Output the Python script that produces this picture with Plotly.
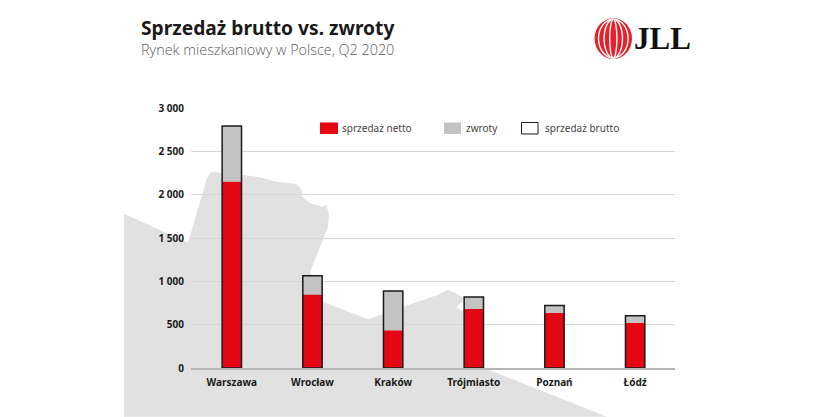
import plotly.graph_objects as go

cities = ["Warszawa", "Wrocław", "Kraków", "Trójmiasto", "Poznań", "Łódź"]
net_sales = [2150, 845, 433, 680, 634, 519]
returns = [643, 220, 455, 138, 88, 84]
gross_sales = [2793, 1065, 888, 818, 722, 603]
y_ticks = [0, 500, 1000, 1500, 2000, 2500, 3000]
y_tick_labels = ["0", "500", "1 000", "1 500", "2 000", "2 500", "3 000"]

W, H = 833, 417
BODY = 8  # default page margin around the figure
L, R, T, B = 191, 675, 108, 368.3
FONT = "Noto Sans"


def px(x):
    return (x - L) / (R - L)


def py(y):
    return (B - y) / (B - T)


def path(points):
    return "M" + " L".join(f"{px(x):.4f},{py(y):.4f}" for x, y in points) + " Z"


map_outline = [
    (124, 214), (188, 243), (206.5, 180), (210, 173), (215, 171.5), (220, 173),
    (248, 175.5), (263, 178), (275, 181.5), (296.5, 184), (301.5, 190),
    (302.5, 197), (310, 203), (323, 207), (326.5, 205), (329, 215),
    (328, 227), (310, 272), (323, 302), (368, 319.5), (405, 306.5),
    (438, 295), (448, 290), (455, 293), (463, 298), (463, 302), (458, 305),
    (457, 308), (461, 311), (465, 310), (470, 335), (483, 368), (607, 417), (124, 417),
]

fig = go.Figure()
fig.add_bar(name="zwroty", x=cities, y=returns, base=net_sales, marker_color="#c3c3c3",
            marker_line_width=0, width=0.24)
fig.add_bar(name="sprzedaż netto", x=cities, y=net_sales, marker_color="#e30613",
            marker_line_width=0, width=0.24)
fig.add_bar(name="sprzedaż brutto", x=cities, y=gross_sales, marker_color="rgba(0,0,0,0)",
            marker_line=dict(color="#1a1a1a", width=1.5), width=0.24)

shapes = [dict(type="path", xref="paper", yref="paper", path=path(map_outline),
               fillcolor="#e1e1e1", line_width=0, layer="below")]


def rect(x0, y0, x1, y1, fill, line=None, width=0):
    shapes.append(dict(type="rect", xref="paper", yref="paper", x0=px(x0), x1=px(x1),
                       y0=py(y0), y1=py(y1), fillcolor=fill,
                       line=dict(color=line or fill, width=width)))


def ellipse(cx, cy, rx, ry, fill, line="rgba(0,0,0,0)", width=0):
    shapes.append(dict(type="circle", xref="paper", yref="paper", x0=px(cx - rx), x1=px(cx + rx),
                       y0=py(cy - ry), y1=py(cy + ry), fillcolor=fill,
                       line=dict(color=line, width=width)))


# legend swatches
rect(320, 122.5, 338, 134, "#e30613")
rect(444, 122.5, 461, 134, "#c3c3c3")
rect(521.5, 122.5, 538, 134, "white", "#1a1a1a", 1)

# logo
CX, CY = 613.3, 38.5
ellipse(CX, CY, 18.7, 20.5, "#e8202a")
for rx, lw in [(14.8, 1.4), (9.2, 1.4), (3.6, 1.4)]:
    ellipse(CX, CY, rx, 19.4, "rgba(0,0,0,0)", "white", lw)

annotations = [
    dict(text="Sprzedaż brutto vs. zwroty", x=px(139), y=py(27), font=dict(size=19.2, color="#1a1a1a", family=FONT, weight="bold")),
    dict(text="Rynek mieszkaniowy w Polsce, Q2 2020", x=px(139), y=py(49), font=dict(size=14.4, color="#5c5c5c", family="Open Sans", weight=300)),
    dict(text="<b>JLL</b>", x=px(631.5), y=py(38), font=dict(size=31, color="#111111", family="Liberation Serif")),
    dict(text="sprzedaż netto", x=px(340), y=py(128.5), font=dict(size=10, color="#444444", family=FONT)),
    dict(text="zwroty", x=px(464), y=py(128.5), font=dict(size=10, color="#444444", family=FONT)),
    dict(text="sprzedaż brutto", x=px(543), y=py(128.5), font=dict(size=10, color="#444444", family=FONT)),
]
for a in annotations:
    a.update(xref="paper", yref="paper", xanchor="left", yanchor="middle", showarrow=False)

fig.update_layout(
    width=W - BODY, height=H - BODY, autosize=False,
    margin=dict(l=L - BODY, r=W - R, t=T - BODY, b=H - B),
    paper_bgcolor="white", plot_bgcolor="rgba(0,0,0,0)",
    barmode="overlay", showlegend=False, shapes=shapes, annotations=annotations,
    font=dict(family=FONT, size=10, color="#1a1a1a"),
)
fig.update_xaxes(range=[-0.506, 5.494], showgrid=False, ticks="", showline=True, linecolor="#b5b5b5", linewidth=1.5,
                 tickfont=dict(size=10, family=FONT, weight="bold", color="#1a1a1a"), ticklabelstandoff=4)
fig.update_yaxes(range=[0, 3000], tickvals=y_ticks, ticktext=y_tick_labels, showgrid=True,
                 gridcolor="#d6d6d6", gridwidth=1, zeroline=False, ticks="", showline=False,
                 tickfont=dict(size=10, family=FONT, weight="bold", color="#1a1a1a"), ticklabelstandoff=6)

fig.write_html("out.html", config=dict(displayModeBar=False))
